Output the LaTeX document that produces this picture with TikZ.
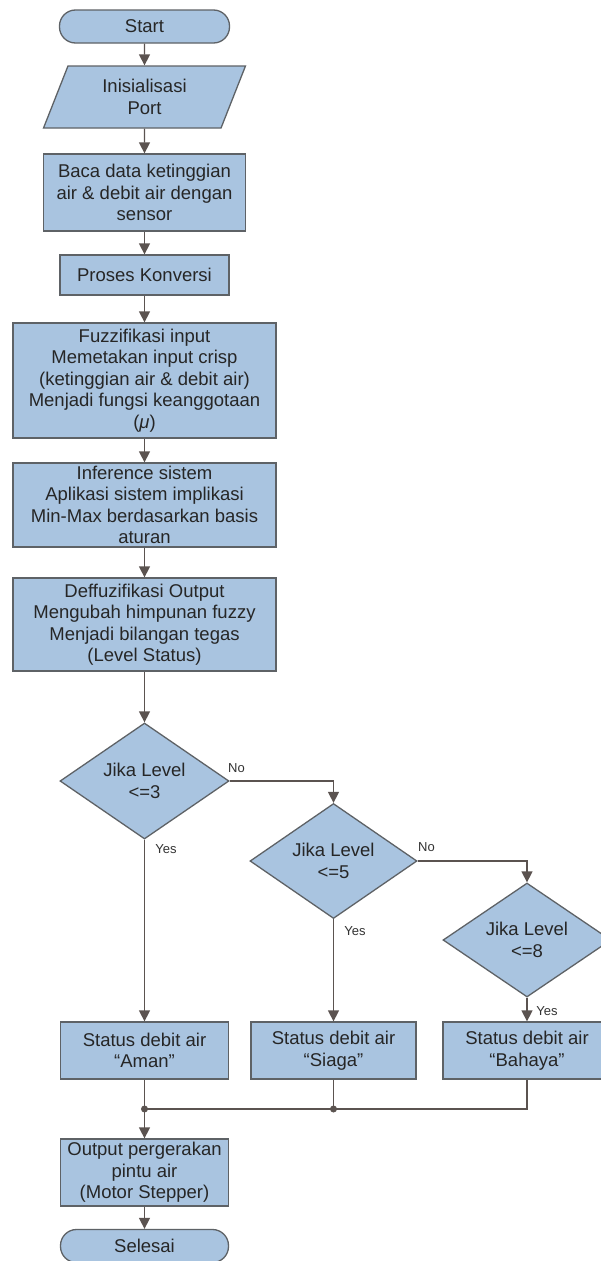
\documentclass[tikz,border=0pt]{standalone}
\usepackage{fontspec}
\setmainfont{Liberation Sans}
\usetikzlibrary{shapes.geometric,arrows.meta}
\definecolor{boxfill}{HTML}{A9C4E0}
\definecolor{boxline}{HTML}{5E6266}
\definecolor{conn}{HTML}{5B5350}
\tikzset{
  base/.style={draw=boxline, fill=boxfill, line width=1.3pt, inner sep=0pt, align=center,
    text=black!85, font=\fontsize{18.5}{21.5}\selectfont},
  procbox/.style={base, rectangle},
  termbox/.style={base, rectangle, rounded corners=16pt},
  iobox/.style={base, trapezium, trapezium left angle=69, trapezium right angle=111, trapezium stretches=true},
  decbox/.style={base, diamond, aspect=1.45},
  flow/.style={draw=conn, line width=1.4pt, -{Triangle[width=11pt,length=11pt]}},
  plain/.style={draw=conn, line width=1.4pt},
  lbl/.style={font=\fontsize{13}{15}\selectfont, text=black!80, inner sep=0pt},
  dot/.style={circle, fill=conn, inner sep=0pt, minimum size=7pt}
}
\begin{document}
\begin{tikzpicture}[x=1pt,y=-1pt]
\fill[white] (0,0) rectangle (601,1261);
\useasboundingbox (0,0) rectangle (601,1261);
\begin{scope}
\clip (0,0) rectangle (601,1261);
\node[termbox, minimum width=170pt, minimum height=33pt] (start) at (144.5,26.5) {Start};
\node[iobox, minimum width=202pt, minimum height=62pt] (port) at (144.5,97) {Inisialisasi\\Port};
\node[procbox, minimum width=202pt, minimum height=77pt] (baca) at (144.5,192.5) {Baca data ketinggian\\air \& debit air dengan\\sensor};
\node[procbox, minimum width=169pt, minimum height=40pt] (proses) at (144.5,275) {Proses Konversi};
\node[procbox, minimum width=263pt, minimum height=115pt] (fuzz) at (144.5,380.5) {Fuzzifikasi input\\Memetakan input crisp\\(ketinggian air \& debit air)\\Menjadi fungsi keanggotaan\\(\textit{μ})};
\node[procbox, minimum width=263pt, minimum height=84pt] (infer) at (144.5,505) {Inference sistem\\Aplikasi sistem implikasi\\Min-Max berdasarkan basis\\aturan};
\node[procbox, minimum width=263pt, minimum height=93pt] (deff) at (144.5,624.5) {Deffuzifikasi Output\\Mengubah himpunan fuzzy\\Menjadi bilangan tegas\\(Level Status)};
\node[decbox, minimum width=169pt, minimum height=116pt] (d1) at (144.5,781) {Jika Level\\<=3};
\node[decbox, minimum width=167pt, minimum height=115pt] (d2) at (333.5,861) {Jika Level\\<=5};
\node[decbox, minimum width=168pt, minimum height=114pt] (d3) at (527,940) {Jika Level\\<=8};
\node[procbox, minimum width=168pt, minimum height=57pt] (s1) at (144.5,1050.5) {Status debit air\\“Aman”};
\node[procbox, minimum width=165pt, minimum height=57pt] (s2) at (333.5,1050.5) {Status debit air\\“Siaga”};
\node[procbox, minimum width=168pt, minimum height=57pt] (s3) at (527,1050.5) {Status debit air\\“Bahaya”};
\node[procbox, minimum width=168pt, minimum height=67pt] (out) at (144.5,1172.5) {Output pergerakan\\pintu air\\(Motor Stepper)};
\node[termbox, minimum width=168pt, minimum height=33pt] (finish) at (144.5,1246) {Selesai};
\coordinate (m1) at (144.5,1109);
\coordinate (m2) at (333.5,1109);

\draw[flow] (start) -- (port);
\draw[flow] (port) -- (baca);
\draw[flow] (baca) -- (proses);
\draw[flow] (proses) -- (fuzz);
\draw[flow] (fuzz) -- (infer);
\draw[flow] (infer) -- (deff);
\draw[flow] (deff) -- (d1);
\draw[flow] (d1.east) -| (d2.north);
\draw[flow] (d2.east) -| (d3.north);
\draw[flow] (d1.south) -- (s1.north);
\draw[flow] (d2.south) -- (s2.north);
\draw[flow] (d3.south) -- (s3.north);
\draw[plain] (s1.south) -- (m1);
\draw[plain] (s2.south) -- (m2);
\draw[plain] (s3.south) |- (m1);
\draw[flow] (m1) -- (out.north);
\draw[flow] (out) -- (finish);
\node[dot] (dot1) at (m1) {};
\node[dot] (dot2) at (m2) {};

\node[lbl] (no1) at (236.5,768) {No};
\node[lbl] (no2) at (426.5,847) {No};
\node[lbl] (yes1) at (166,849) {Yes};
\node[lbl] (yes2) at (355,931) {Yes};
\node[lbl] (yes3) at (547,1011) {Yes};
\end{scope}
\end{tikzpicture}
\end{document}
